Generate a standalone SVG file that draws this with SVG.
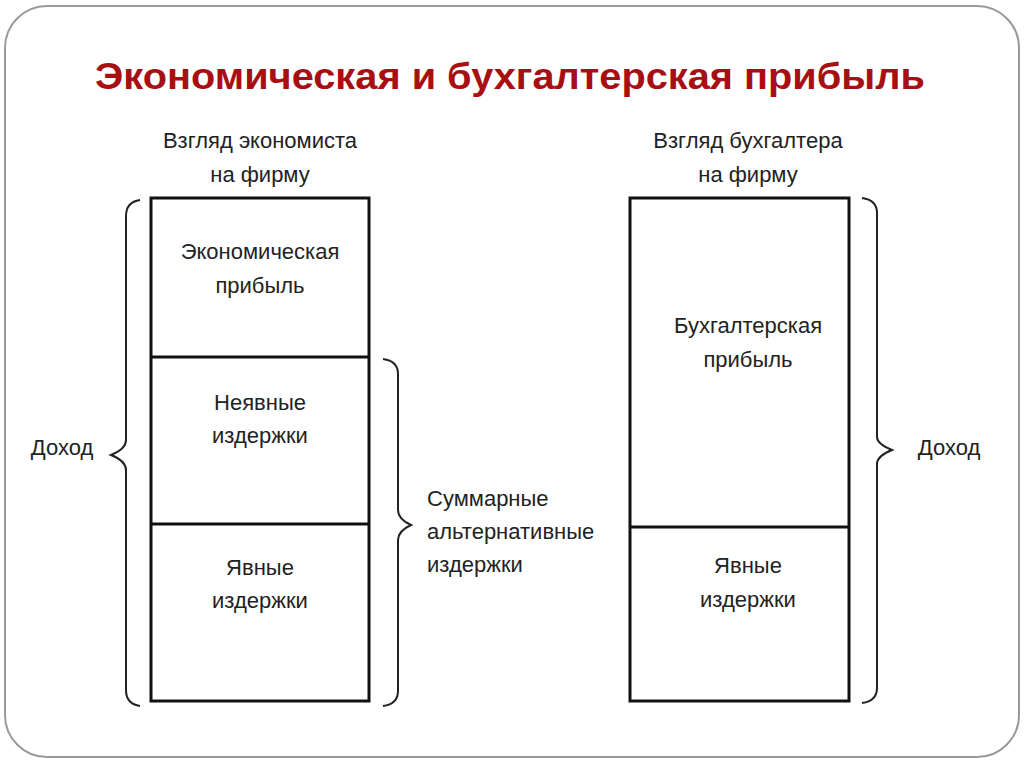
<svg xmlns="http://www.w3.org/2000/svg" width="1024" height="767" viewBox="0 0 1024 767">
<style>
.lbl{font-family:"Liberation Sans",Arial,sans-serif;font-size:22px;fill:#222;text-anchor:middle}
.lft{text-anchor:start}
.box{fill:#fff;stroke:#111;stroke-width:3}
.div{stroke:#111;stroke-width:3}
.brace{fill:none;stroke:#222;stroke-width:2}
</style>
<rect width="1024" height="767" fill="#fff"/>
<rect id="frame" x="5" y="6" width="1014" height="751" rx="42" ry="42" fill="#fff" stroke="#9a9a9a" stroke-width="2"/>
<text id="title" x="510" y="89" font-family="'Liberation Sans',Arial,sans-serif" font-size="37" font-weight="bold" fill="#a80f12" text-anchor="middle" textLength="830" lengthAdjust="spacingAndGlyphs">Экономическая и бухгалтерская прибыль</text>

<g id="economist-view">
<text class="lbl" x="260" y="148">Взгляд экономиста</text>
<text class="lbl" x="260" y="182">на фирму</text>
</g>
<g id="economist-column">
<rect class="box" x="151" y="198" width="218" height="503"/>
<line class="div" x1="151" y1="357" x2="369" y2="357"/>
<line class="div" x1="151" y1="524" x2="369" y2="524"/>
</g>
<g id="econ-profit"><text class="lbl" x="260" y="259">Экономическая</text><text class="lbl" x="260" y="293">прибыль</text></g>
<g id="implicit-costs"><text class="lbl" x="260" y="410">Неявные</text><text class="lbl" x="260" y="443">издержки</text></g>
<g id="explicit-costs-left"><text class="lbl" x="260" y="575">Явные</text><text class="lbl" x="260" y="608">издержки</text></g>

<g id="accountant-view">
<text class="lbl" x="748" y="148">Взгляд бухгалтера</text>
<text class="lbl" x="748" y="182">на фирму</text>
</g>
<g id="accountant-column">
<rect class="box" x="630" y="198" width="219" height="503"/>
<line class="div" x1="630" y1="527" x2="849" y2="527"/>
</g>
<g id="acc-profit"><text class="lbl" x="748" y="333">Бухгалтерская</text><text class="lbl" x="748" y="367">прибыль</text></g>
<g id="explicit-costs-right"><text class="lbl" x="748" y="573">Явные</text><text class="lbl" x="748" y="607">издержки</text></g>

<g id="income-left"><text class="lbl" x="62" y="455">Доход</text></g>
<g id="total-opportunity-costs"><text class="lbl lft" x="427" y="506">Суммарные</text><text class="lbl lft" x="427" y="539">альтернативные</text><text class="lbl lft" x="427" y="572">издержки</text></g>
<g id="income-right"><text class="lbl" x="949" y="455">Доход</text></g>

<g id="connectors">
<path class="brace" d="M140 200 Q126 202 126 216 L126 440 Q126 449 111 455 Q126 461 126 470 L126 690 Q126 704 140 706"/>
<path class="brace" d="M383 359 Q398 361 398 374 L398 510 Q398 519 411 525 Q398 531 398 540 L398 691 Q398 704 383 706"/>
<path class="brace" d="M862 198 Q877 200 877 213 L877 437 Q877 444 892 450 Q877 456 877 464 L877 688 Q877 701 862 703"/>
</g>
</svg>
